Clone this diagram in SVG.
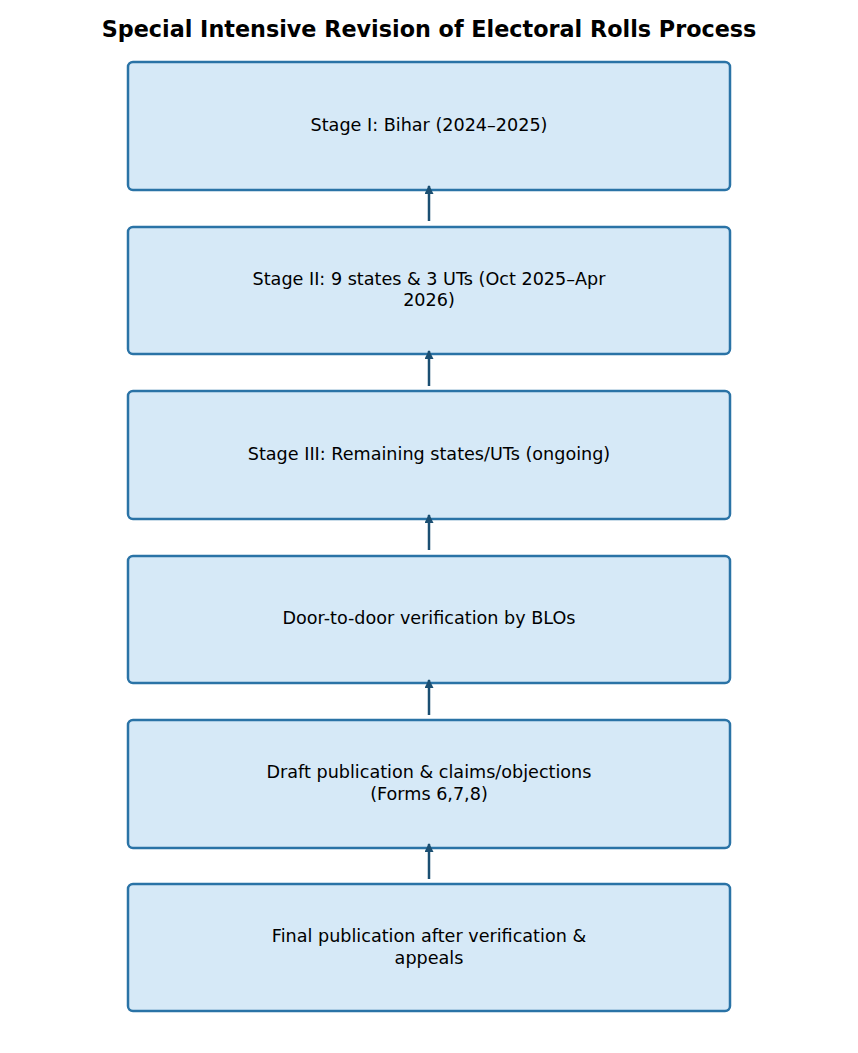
<svg xmlns="http://www.w3.org/2000/svg" width="858" height="1053" viewBox="0 0 858 1053">
<defs>
<style>
.title{font-family:"DejaVu Sans",sans-serif;font-size:22.3px;font-weight:bold;fill:#000;text-anchor:middle}
.box{fill:#d6e9f7;stroke:#2a73a6;stroke-width:2.5}
.lbl{font-family:"DejaVu Sans",sans-serif;font-size:17.6px;fill:#000;text-anchor:middle}
.conn{stroke:#1b4f72;stroke-width:2.5;fill:none;marker-end:url(#ah)}
</style>
<marker id="ah" viewBox="0 0 10 10" refX="9" refY="5" markerWidth="4" markerHeight="3.6" orient="auto" markerUnits="strokeWidth">
<path d="M0,0 L10,5 L0,10 z" fill="#1b4f72"/>
</marker>
</defs>
<rect width="858" height="1053" fill="#fff"/>
<text class="title" x="429" y="37">Special Intensive Revision of Electoral Rolls Process</text>
<g id="n1"><rect class="box" x="128" y="62" width="602" height="128" rx="5"/><text class="lbl" x="429" y="131">Stage I: Bihar (2024–2025)</text></g>
<g id="n2"><rect class="box" x="128" y="227" width="602" height="127" rx="5"/><text class="lbl" x="429" y="285">Stage II: 9 states &amp; 3 UTs (Oct 2025–Apr</text><text class="lbl" x="429" y="306">2026)</text></g>
<g id="n3"><rect class="box" x="128" y="391" width="602" height="128" rx="5"/><text class="lbl" x="429" y="460">Stage III: Remaining states/UTs (ongoing)</text></g>
<g id="n4"><rect class="box" x="128" y="556" width="602" height="127" rx="5"/><text class="lbl" x="429" y="624">Door-to-door verification by BLOs</text></g>
<g id="n5"><rect class="box" x="128" y="720" width="602" height="128" rx="5"/><text class="lbl" x="429" y="778">Draft publication &amp; claims/objections</text><text class="lbl" x="429" y="800">(Forms 6,7,8)</text></g>
<g id="n6"><rect class="box" x="128" y="884" width="602" height="127" rx="5"/><text class="lbl" x="429" y="942">Final publication after verification &amp;</text><text class="lbl" x="429" y="964">appeals</text></g>
<g id="connectors">
<line class="conn" x1="429" y1="221" x2="429" y2="186"/>
<line class="conn" x1="429" y1="386" x2="429" y2="351"/>
<line class="conn" x1="429" y1="550" x2="429" y2="515"/>
<line class="conn" x1="429" y1="715" x2="429" y2="680"/>
<line class="conn" x1="429" y1="879" x2="429" y2="844"/>
</g>
</svg>
